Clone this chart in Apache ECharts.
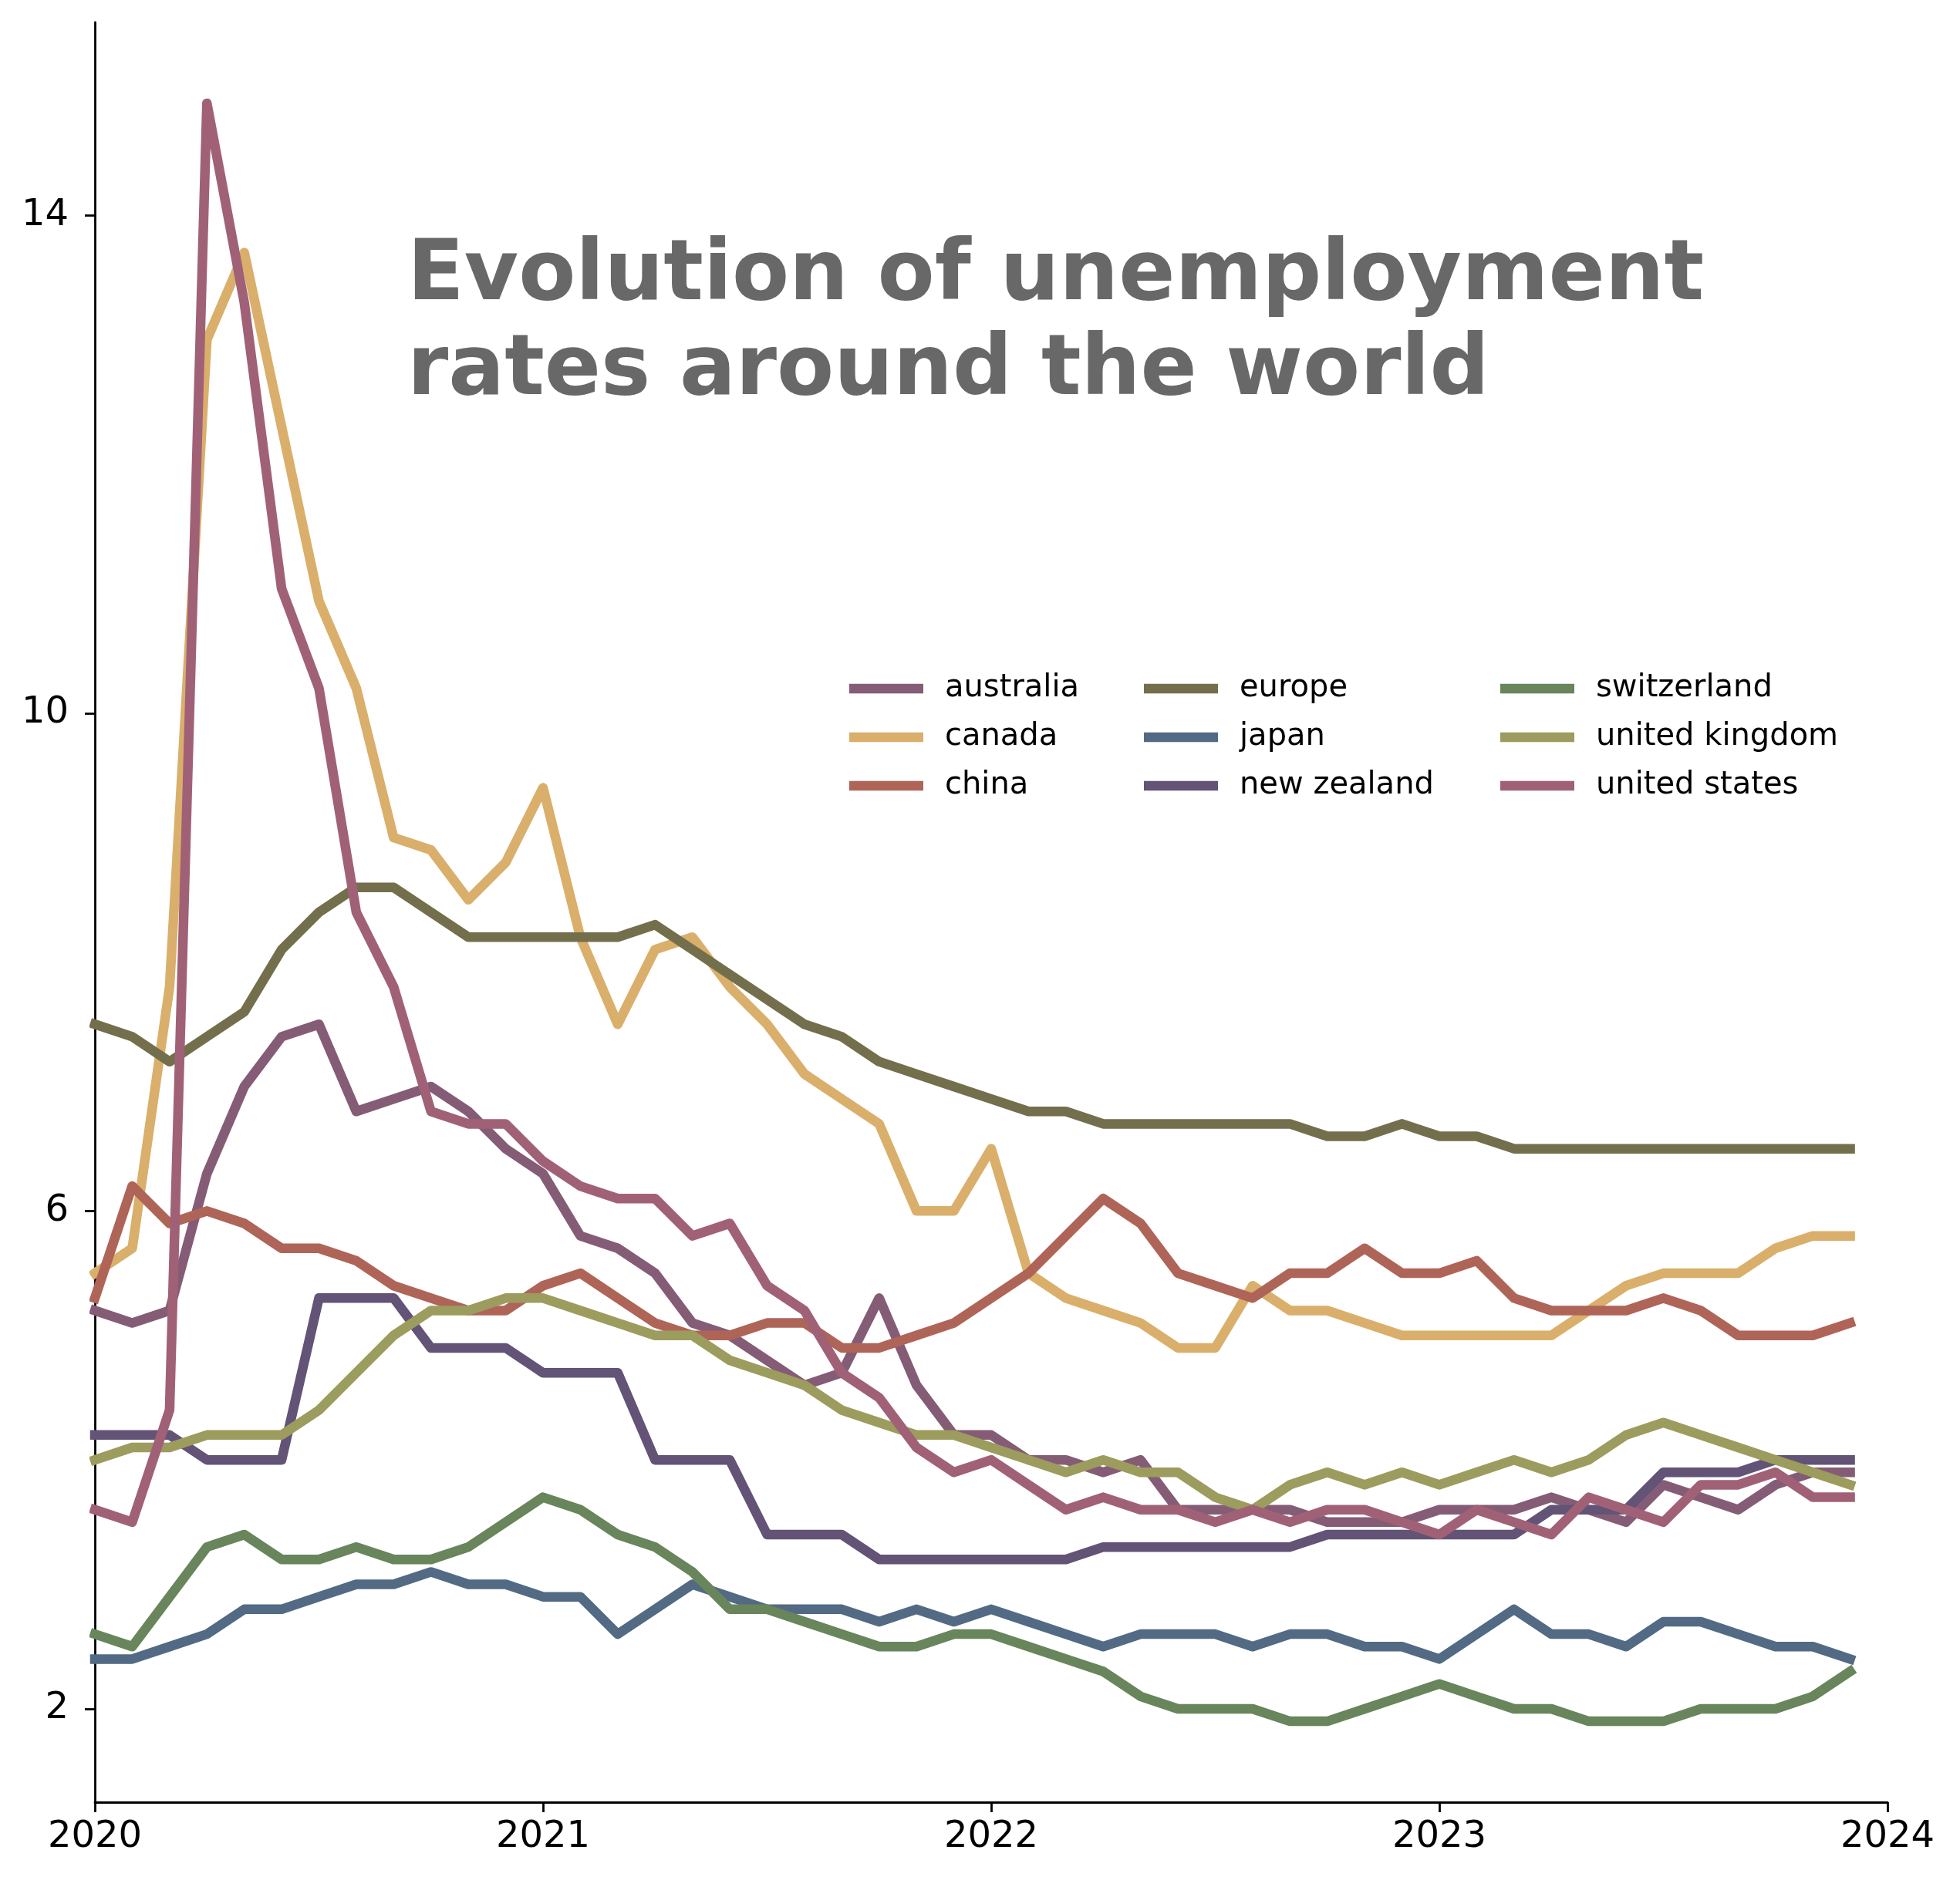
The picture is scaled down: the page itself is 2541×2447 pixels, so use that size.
<!DOCTYPE html>
<html>
<head>
<meta charset="utf-8">
<script src="https://cdn.jsdelivr.net/npm/echarts@6/dist/echarts.min.js"></script>
<style>
html,body{margin:0;padding:0;background:#fff;}
#chart{width:2541px;height:2447px;}
</style>
</head>
<body>
<div id="chart"></div>
<script>
// Monthly observations Jan 2020 .. Dec 2023 (48 months)
const yearLabels = ['2020', '2021', '2022', '2023', '2024'];
const yTickValues = [2, 6, 10, 14];

const seriesNames = ['australia', 'canada', 'china', 'europe', 'japan', 'new zealand', 'switzerland', 'united kingdom', 'united states'];
const seriesColors = ['#855C75', '#D9AF6B', '#AF6458', '#736F4C', '#526A83', '#625377', '#68855C', '#9C9C5E', '#A06177'];

const australia = [5.2, 5.1, 5.2, 6.3, 7.0, 7.4, 7.5, 6.8, 6.9, 7.0, 6.8, 6.5, 6.3, 5.8, 5.7, 5.5, 5.1, 5.0, 4.8, 4.6, 4.7, 5.3, 4.6, 4.2, 4.2, 4.0, 4.0, 3.9, 4.0, 3.6, 3.6, 3.6, 3.6, 3.5, 3.5, 3.5, 3.6, 3.6, 3.6, 3.7, 3.6, 3.5, 3.8, 3.7, 3.6, 3.8, 3.9, 3.9];
const canada = [5.5, 5.7, 7.8, 13.0, 13.7, 12.3, 10.9, 10.2, 9.0, 8.9, 8.5, 8.8, 9.4, 8.2, 7.5, 8.1, 8.2, 7.8, 7.5, 7.1, 6.9, 6.7, 6.0, 6.0, 6.5, 5.5, 5.3, 5.2, 5.1, 4.9, 4.9, 5.4, 5.2, 5.2, 5.1, 5.0, 5.0, 5.0, 5.0, 5.0, 5.2, 5.4, 5.5, 5.5, 5.5, 5.7, 5.8, 5.8];
const china = [5.3, 6.2, 5.9, 6.0, 5.9, 5.7, 5.7, 5.6, 5.4, 5.3, 5.2, 5.2, 5.4, 5.5, 5.3, 5.1, 5.0, 5.0, 5.1, 5.1, 4.9, 4.9, 5.0, 5.1, 5.3, 5.5, 5.8, 6.1, 5.9, 5.5, 5.4, 5.3, 5.5, 5.5, 5.7, 5.5, 5.5, 5.6, 5.3, 5.2, 5.2, 5.2, 5.3, 5.2, 5.0, 5.0, 5.0, 5.1];
const europe = [7.5, 7.4, 7.2, 7.4, 7.6, 8.1, 8.4, 8.6, 8.6, 8.4, 8.2, 8.2, 8.2, 8.2, 8.2, 8.3, 8.1, 7.9, 7.7, 7.5, 7.4, 7.2, 7.1, 7.0, 6.9, 6.8, 6.8, 6.7, 6.7, 6.7, 6.7, 6.7, 6.7, 6.6, 6.6, 6.7, 6.6, 6.6, 6.5, 6.5, 6.5, 6.5, 6.5, 6.5, 6.5, 6.5, 6.5, 6.5];
const japan = [2.4, 2.4, 2.5, 2.6, 2.8, 2.8, 2.9, 3.0, 3.0, 3.1, 3.0, 3.0, 2.9, 2.9, 2.6, 2.8, 3.0, 2.9, 2.8, 2.8, 2.8, 2.7, 2.8, 2.7, 2.8, 2.7, 2.6, 2.5, 2.6, 2.6, 2.6, 2.5, 2.6, 2.6, 2.5, 2.5, 2.4, 2.6, 2.8, 2.6, 2.6, 2.5, 2.7, 2.7, 2.6, 2.5, 2.5, 2.4];
const newZealand = [4.2, 4.2, 4.2, 4.0, 4.0, 4.0, 5.3, 5.3, 5.3, 4.9, 4.9, 4.9, 4.7, 4.7, 4.7, 4.0, 4.0, 4.0, 3.4, 3.4, 3.4, 3.2, 3.2, 3.2, 3.2, 3.2, 3.2, 3.3, 3.3, 3.3, 3.3, 3.3, 3.3, 3.4, 3.4, 3.4, 3.4, 3.4, 3.4, 3.6, 3.6, 3.6, 3.9, 3.9, 3.9, 4.0, 4.0, 4.0];
const switzerland = [2.6, 2.5, 2.9, 3.3, 3.4, 3.2, 3.2, 3.3, 3.2, 3.2, 3.3, 3.5, 3.7, 3.6, 3.4, 3.3, 3.1, 2.8, 2.8, 2.7, 2.6, 2.5, 2.5, 2.6, 2.6, 2.5, 2.4, 2.3, 2.1, 2.0, 2.0, 2.0, 1.9, 1.9, 2.0, 2.1, 2.2, 2.1, 2.0, 2.0, 1.9, 1.9, 1.9, 2.0, 2.0, 2.0, 2.1, 2.3];
const unitedKingdom = [4.0, 4.1, 4.1, 4.2, 4.2, 4.2, 4.4, 4.7, 5.0, 5.2, 5.2, 5.3, 5.3, 5.2, 5.1, 5.0, 5.0, 4.8, 4.7, 4.6, 4.4, 4.3, 4.2, 4.2, 4.1, 4.0, 3.9, 4.0, 3.9, 3.9, 3.7, 3.6, 3.8, 3.9, 3.8, 3.9, 3.8, 3.9, 4.0, 3.9, 4.0, 4.2, 4.3, 4.2, 4.1, 4.0, 3.9, 3.8];
const unitedStates = [3.6, 3.5, 4.4, 14.9, 13.3, 11.0, 10.2, 8.4, 7.8, 6.8, 6.7, 6.7, 6.4, 6.2, 6.1, 6.1, 5.8, 5.9, 5.4, 5.2, 4.7, 4.5, 4.1, 3.9, 4.0, 3.8, 3.6, 3.7, 3.6, 3.6, 3.5, 3.6, 3.5, 3.6, 3.6, 3.5, 3.4, 3.6, 3.5, 3.4, 3.7, 3.6, 3.5, 3.8, 3.8, 3.9, 3.7, 3.7];

const seriesValues = [australia, canada, china, europe, japan, newZealand, switzerland, unitedKingdom, unitedStates];

const titleText = 'Evolution of unemployment\nrates around the world';

const FONT = 'DejaVu Sans';
const chart = echarts.init(document.getElementById('chart'), null, {renderer: 'canvas'});

const series = seriesNames.map((name, k) => ({
  name: name,
  type: 'line',
  data: seriesValues[k].map((v, i) => [i, v]),
  showSymbol: false,
  symbol: 'none',
  color: seriesColors[k],
  lineStyle: {width: 12.5, color: seriesColors[k], cap: 'square', join: 'round'},
  emphasis: {disabled: true},
  silent: true
}));

function legendFor(names, left) {
  return {
    orient: 'vertical',
    left: left,
    top: 873,
    padding: 0,
    data: names,
    icon: 'rect',
    itemWidth: 96,
    itemHeight: 12.5,
    itemGap: 23,
    selectedMode: false,
    textStyle: {fontSize: 40, fontFamily: FONT, color: '#000', padding: [0, 0, 0, 23]}
  };
}

const option = {
  animation: false,
  backgroundColor: '#ffffff',
  title: {
    text: titleText,
    left: 528,
    top: 298,
    padding: 0,
    textStyle: {fontSize: 108, fontWeight: 'bold', fontFamily: FONT, color: '#686868', lineHeight: 123}
  },
  legend: [
    legendFor(seriesNames.slice(0, 3), 1101),
    legendFor(seriesNames.slice(3, 6), 1483),
    legendFor(seriesNames.slice(6, 9), 1945)
  ],
  grid: {left: 123, right: 94, top: 29, bottom: 110, containLabel: false},
  xAxis: {
    type: 'value',
    min: 0,
    max: 48,
    interval: 12,
    axisLine: {show: true, onZero: false, lineStyle: {color: '#000', width: 2.8}},
    axisTick: {show: true, length: 13, lineStyle: {color: '#000', width: 2.8}},
    axisLabel: {
      show: true, margin: 22, fontSize: 48, fontFamily: FONT, color: '#000',
      formatter: v => yearLabels[Math.round(v / 12)]
    },
    splitLine: {show: false}
  },
  yAxis: {
    type: 'value',
    min: 1.25,
    max: 15.55,
    axisLine: {show: true, onZero: false, lineStyle: {color: '#000', width: 2.8}},
    axisTick: {show: true, length: 13, customValues: yTickValues, lineStyle: {color: '#000', width: 2.8}},
    axisLabel: {show: true, margin: 34, fontSize: 48, fontFamily: FONT, color: '#000', customValues: yTickValues},
    splitLine: {show: false}
  },
  series: series
};
chart.setOption(option);
</script>
</body>
</html>
